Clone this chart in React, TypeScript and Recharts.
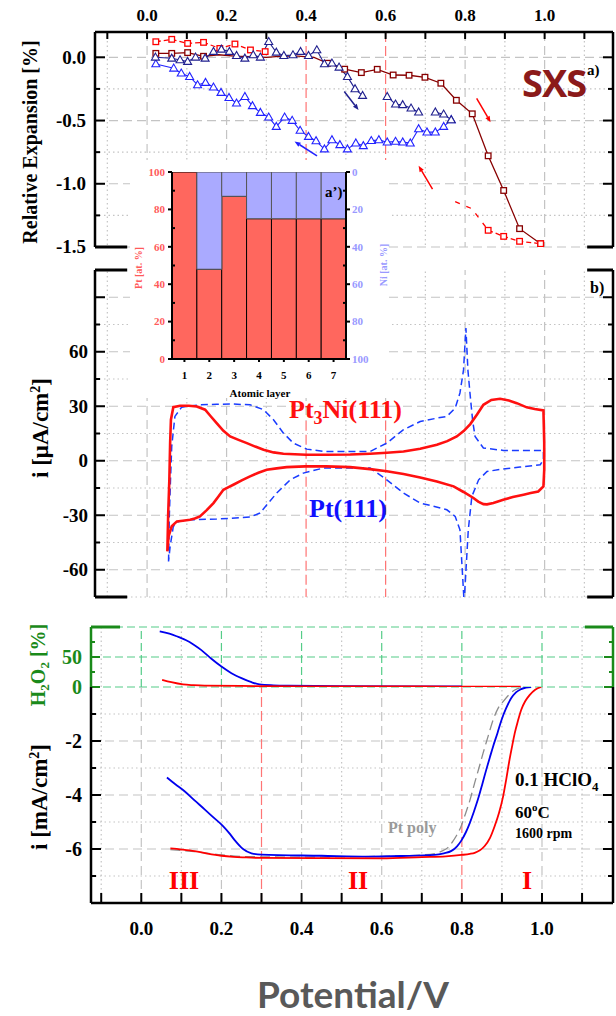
import React from 'react';
import { LineChart, Line, XAxis, YAxis, ReferenceLine, BarChart, Bar } from 'recharts';

const SERIF = '"Liberation Serif", "Times New Roman", serif';

// shared potential axis (V)
const potTicks = [-0.1, 0, 0.1, 0.2, 0.3, 0.4, 0.5, 0.6, 0.7, 0.8, 0.9, 1.0, 1.1];
const potLabels = [0, 0.2, 0.4, 0.6, 0.8, 1.0];
const potMinor = [-0.1, 0.1, 0.3, 0.5, 0.7, 0.9, 1.1];

// ---- a) SXS relative expansion [%]
const sxsTicks = [0, -0.25, -0.5, -0.75, -1, -1.25, -1.5];
const sxsMajor = [0, -0.5, -1, -1.5];
const sxsMinor = [-0.25, -0.75, -1.25];

type P = [number, number | null];

const pt3niFwdA: P[] = [[0.022, 0.031], [0.062, 0.031], [0.102, 0.037], [0.142, 0.008]];
const pt3niFwdHidden: P[] = [
  [0.142, 0.008], [0.18, 0.02], [0.22, 0.01], [0.26, 0.005], [0.3, 0.0], [0.34, 0.01],
  [0.38, 0.01], [0.42, 0.0], [0.454, -0.047],
];
const pt3niFwdB: P[] = [
  [0.454, -0.047], [0.497, -0.094], [0.539, -0.121], [0.579, -0.095], [0.619, -0.14],
  [0.659, -0.142], [0.699, -0.158], [0.739, -0.205], [0.778, -0.34], [0.818, -0.447],
  [0.858, -0.779], [0.897, -1.053], [0.937, -1.355], [0.99, -1.474],
];
const pt3niRevLow: P[] = [
  [0.022, 0.123], [0.062, 0.142], [0.102, 0.11], [0.142, 0.118], [0.183, 0.07],
  [0.221, 0.105], [0.26, 0.058], [0.297, 0.045],
];
const pt3niRevHighLink: P[] = [[0.775, -1.142], [0.817, -1.197], [0.858, -1.368]];
const pt3niRevHigh: P[] = [[0.858, -1.368], [0.897, -1.416], [0.937, -1.455], [0.99, -1.474]];

const pt111Fwd: P[] = [
  [0.021, 0.0], [0.062, -0.008], [0.083, -0.021], [0.102, -0.034], [0.122, 0.0], [0.146, -0.008],
  [0.167, 0.045], [0.187, 0.063], [0.207, 0.045], [0.225, 0.013], [0.246, -0.008], [0.267, 0.018],
  [0.285, 0.0], [0.306, 0.123], [0.325, 0.039], [0.344, 0.013], [0.367, 0.018], [0.386, 0.045],
  [0.406, 0.013], [0.427, 0.058], [0.446, -0.053], [0.465, -0.047], [0.483, -0.079], [0.504, -0.153],
  [0.523, -0.25], [0.542, -0.303], [0.56, null], [0.604, -0.311], [0.625, -0.371], [0.643, -0.376],
  [0.664, -0.403], [0.683, -0.434], [0.7, null], [0.725, -0.434], [0.746, -0.45], [0.765, -0.495],
];
const pt111Rev: P[] = [
  [0.765, -0.495], [0.746, -0.548], [0.725, -0.592], [0.704, -0.592], [0.683, -0.566],
  [0.662, -0.679], [0.643, -0.671], [0.625, -0.666], [0.604, -0.671], [0.583, -0.653],
  [0.564, -0.66], [0.544, -0.7], [0.525, -0.679], [0.504, -0.726], [0.485, -0.692],
  [0.465, -0.653], [0.446, -0.726], [0.425, -0.661], [0.406, -0.627], [0.385, -0.579],
  [0.365, -0.5], [0.346, -0.474], [0.325, -0.548], [0.306, -0.474], [0.285, -0.437],
  [0.265, -0.384], [0.246, -0.311], [0.225, -0.363], [0.206, -0.319], [0.186, -0.279],
  [0.167, -0.237], [0.147, -0.2], [0.127, -0.219], [0.107, -0.153], [0.086, -0.126],
  [0.067, -0.087], [0.022, -0.053],
];

// scan direction arrows [from, to]
const arrowsRed = [
  [[0.829, -0.324], [0.864, -0.513]],
  [[0.718, -1.042], [0.683, -0.858]],
];
const arrowsBlue = [
  [[0.496, -0.271], [0.532, -0.416]],
  [[0.4275, -0.779], [0.371, -0.666]],
];

// ---- a') inset: composition per atomic layer
const layers = [1, 2, 3, 4, 5, 6, 7];
const ptAt = [100, 48, 87, 75, 75, 75, 75];
const niAt = [0, 52, 13, 25, 25, 25, 25];
const pctTicks = [0, 10, 20, 30, 40, 50, 60, 70, 80, 90, 100];
const pctMajor = [0, 20, 40, 60, 80, 100];

// ---- b) CV, i [uA/cm2]
const cvTicks = [90, 75, 60, 45, 30, 15, 0, -15, -30, -45, -60];
const cvMajor = [90, 60, 30, 0, -30, -60];
const cvMinor = [75, 45, 15, -15, -45, -75];
const cvLabels = [60, 30, 0, -30, -60];

const cvPt3ni: P[] = [
  [0.051, -49.9], [0.053, -30], [0.056, -10.5], [0.058, 10], [0.06, 22.6], [0.066, 29.5],
  [0.083, 30.3], [0.105, 30.3], [0.125, 29.9], [0.146, 28.1], [0.16, 24.5], [0.175, 20.7],
  [0.192, 16.5], [0.209, 13.4], [0.23, 11.5], [0.251, 9.7], [0.272, 7.8], [0.293, 6.05],
  [0.318, 4.6], [0.343, 3.85], [0.4, 3.3], [0.45, 3.3], [0.511, 3.4], [0.561, 3.85],
  [0.603, 4.4], [0.645, 5.1], [0.687, 6.6], [0.729, 8.8], [0.755, 10.8], [0.779, 13.4],
  [0.797, 16.5], [0.813, 20.2], [0.83, 25.5], [0.846, 30.8], [0.866, 33.5], [0.888, 34.1],
  [0.91, 33.2], [0.93, 31.7], [0.955, 29.4], [0.975, 28.5], [0.997, 27.7], [0.999, 10],
  [0.999, -5], [0.997, -14.1], [0.984, -16.9], [0.965, -17.8], [0.947, -18.7], [0.92, -20],
  [0.896, -21.5], [0.871, -23.3], [0.855, -24], [0.846, -23.9], [0.833, -22.5], [0.821, -20.5],
  [0.796, -17.2], [0.771, -14.1], [0.729, -11.4], [0.687, -9.2], [0.645, -7.3], [0.603, -5.8],
  [0.561, -4.6], [0.511, -3.5], [0.45, -3.1], [0.398, -3.1], [0.351, -3.5], [0.326, -4.2],
  [0.301, -5], [0.28, -6.6], [0.259, -8.6], [0.238, -10.8], [0.217, -13.2], [0.205, -14.5],
  [0.192, -16], [0.18, -19.5], [0.167, -23.3], [0.15, -27.2], [0.133, -30.6], [0.12, -31.8],
  [0.108, -32.5], [0.09, -33], [0.075, -33.4], [0.062, -36.1], [0.054, -41.6], [0.051, -49.9],
];
const cvPt111: P[] = [
  [0.054, -55.4], [0.056, -30], [0.059, -10], [0.062, 7.9], [0.07, 24.4], [0.087, 29.5],
  [0.133, 30.8], [0.175, 31.1], [0.217, 31.2], [0.259, 30.8], [0.293, 28.1], [0.318, 22.6],
  [0.343, 15.2], [0.368, 9.7], [0.402, 6.4], [0.444, 5.1], [0.511, 5.1], [0.561, 5.1],
  [0.603, 9.7], [0.645, 17.1], [0.687, 21.6], [0.73, 23.5], [0.754, 24.4], [0.775, 29],
  [0.787, 37.3], [0.796, 50], [0.802, 73], [0.807, 50], [0.813, 35.4], [0.819, 22],
  [0.825, 13.4], [0.846, 7], [0.896, 5.7], [0.997, 5.7], [0.997, 0.5], [0.989, -2.2],
  [0.938, -3.5], [0.896, -4.5], [0.855, -5.9], [0.834, -10.5], [0.817, -19.6], [0.808, -38],
  [0.7975, -78], [0.787, -38], [0.775, -30.6], [0.754, -27], [0.72, -25], [0.687, -23.3],
  [0.645, -17.8], [0.603, -10.5], [0.561, -4], [0.511, -4], [0.444, -4], [0.393, -6.8],
  [0.36, -10.5], [0.326, -17.8], [0.284, -28.8], [0.259, -31], [0.175, -32.1], [0.108, -32.5],
  [0.079, -33.4], [0.066, -36.1], [0.058, -47.2], [0.054, -55.4],
];

// ---- c) RRDE: H2O2 [%] and disk current [mA/cm2]
const h2o2Ticks = [0, 25, 50, 75];
const diskTicks = [-7, -6, -5, -4, -3, -2, -1];
const diskMajor = [-6, -4, -2];
const diskMinor = [-7, -5, -3, -1];

const h2o2Pt111: P[] = [
  [0.046, 92.9], [0.07, 89], [0.092, 83.5], [0.112, 78], [0.13, 71], [0.15, 61.5],
  [0.175, 47], [0.2, 34], [0.225, 23], [0.25, 14.8], [0.275, 8], [0.295, 4.3],
  [0.33, 2.8], [0.366, 2.2], [0.5, 1.5], [0.7, 1], [0.8, 0.8],
];
const h2o2Pt3ni: P[] = [
  [0.052, 12], [0.075, 8], [0.104, 4.3], [0.13, 3], [0.158, 2.2], [0.283, 1.6],
  [0.5, 1.0], [0.7, 0.8], [0.85, 0.6], [0.947, 0.5],
];
const diskPt111: P[] = [
  [0.064, -3.35], [0.085, -3.6], [0.108, -3.86], [0.133, -4.2], [0.158, -4.53], [0.18, -4.83],
  [0.204, -5.15], [0.22, -5.42], [0.233, -5.67], [0.254, -6.0], [0.275, -6.16], [0.3, -6.21],
  [0.45, -6.25], [0.566, -6.28], [0.65, -6.26], [0.732, -6.22], [0.755, -6.16], [0.774, -6.07],
  [0.788, -5.9], [0.799, -5.68], [0.81, -5.38], [0.82, -5.03], [0.83, -4.62], [0.84, -4.17],
  [0.851, -3.6], [0.861, -3.06], [0.87, -2.6], [0.878, -2.2], [0.889, -1.7], [0.899, -1.22],
  [0.91, -0.8], [0.923, -0.42], [0.935, -0.2], [0.948, -0.08], [0.96, -0.02], [0.973, 0],
];
const diskPt3ni: P[] = [
  [0.0725, -5.98], [0.1, -6.02], [0.133, -6.08], [0.165, -6.17], [0.2, -6.25], [0.23, -6.29],
  [0.258, -6.31], [0.3, -6.33], [0.45, -6.34], [0.6, -6.35], [0.7, -6.3], [0.76, -6.27],
  [0.799, -6.22], [0.82, -6.18], [0.832, -6.14], [0.845, -6.05], [0.857, -5.89], [0.87, -5.6],
  [0.882, -5.15], [0.893, -4.65], [0.903, -4.05], [0.911, -3.4], [0.919, -2.69], [0.926, -2.15],
  [0.932, -1.71], [0.94, -1.25], [0.948, -0.85], [0.958, -0.53], [0.969, -0.3], [0.983, -0.1],
  [0.998, 0],
];
const diskPtPoly: P[] = [
  [0.0725, -6.02], [0.133, -6.1], [0.2, -6.22], [0.26, -6.28], [0.4, -6.3], [0.6, -6.27],
  [0.7, -6.22], [0.732, -6.17], [0.75, -6.08], [0.765, -5.95], [0.776, -5.75], [0.786, -5.52],
  [0.797, -5.2], [0.807, -4.78], [0.82, -4.2], [0.832, -3.55], [0.843, -2.98], [0.853, -2.45],
  [0.866, -1.8], [0.878, -1.22], [0.89, -0.8], [0.903, -0.54], [0.918, -0.28], [0.932, -0.11],
  [0.945, -0.03], [0.957, 0],
];

const xy = (a: P[]) => a.map(([x, y]) => ({ x, y }));

// ---------- helpers
const near = (arr: any[] | undefined, v: any) =>
  !!arr && arr.some((m) => (typeof m === 'number' ? Math.abs(m - v) < 1e-6 : m === v));
const without = (arr: number[], drop: number[]) => arr.filter((v) => !near(drop, v));

type TickCfg = {
  side: 'top' | 'bottom' | 'left' | 'right';
  majors?: number[];
  labels?: number[];
  majorLen: number;
  minorLen?: number;
  gap?: number;
  fontSize?: number;
  color?: string;
  tickColor?: string;
  fmt?: (v: any) => string;
};

function makeTick(c: TickCfg) {
  return (p: any) => {
    const { x, y, payload } = p;
    const v = payload.value;
    const len = !c.majors || near(c.majors, v) ? c.majorLen : c.minorLen ?? c.majorLen;
    const show = near(c.labels, v);
    const txt = c.fmt ? c.fmt(v) : String(v);
    const fs = c.fontSize ?? 18;
    const gap = c.gap ?? 0;
    const stroke = c.tickColor ?? '#000';
    const tp = { fontFamily: SERIF, fontWeight: 700, fontSize: fs, fill: c.color ?? '#000' };
    let line;
    let label = null;
    if (c.side === 'top') {
      line = <line x1={x} y1={y} x2={x} y2={y + len} stroke={stroke} strokeWidth={2} />;
      if (show) label = <text x={x} y={y - gap} textAnchor="middle" {...tp}>{txt}</text>;
    } else if (c.side === 'bottom') {
      line = <line x1={x} y1={y} x2={x} y2={y - len} stroke={stroke} strokeWidth={2} />;
      if (show) label = <text x={x} y={y + gap} textAnchor="middle" {...tp}>{txt}</text>;
    } else if (c.side === 'left') {
      line = <line x1={x} y1={y} x2={x + len} y2={y} stroke={stroke} strokeWidth={2} />;
      if (show) label = <text x={x - gap} y={y + fs * 0.34} textAnchor="end" {...tp}>{txt}</text>;
    } else {
      line = <line x1={x} y1={y} x2={x - len} y2={y} stroke={stroke} strokeWidth={2} />;
      if (show) label = <text x={x + gap} y={y + fs * 0.34} textAnchor="start" {...tp}>{txt}</text>;
    }
    return (
      <g>
        {line}
        {label}
      </g>
    );
  };
}

const sqDot = (color: string) => (p: any) => {
  if (p.cx == null || p.cy == null || p.value == null) return <g key={`s${p.index}`} />;
  return (
    <rect key={`s${p.index}`} x={p.cx - 2.8} y={p.cy - 2.8} width={5.6} height={5.6}
      fill="#fff" stroke={color} strokeWidth={1.3} />
  );
};

const triDot = (color: string) => (p: any) => {
  if (p.cx == null || p.cy == null || p.value == null) return <g key={`t${p.index}`} />;
  const { cx, cy } = p;
  return (
    <polygon key={`t${p.index}`} points={`${cx},${cy - 4.2} ${cx - 4},${cy + 2.8} ${cx + 4},${cy + 2.8}`}
      fill="#fff" stroke={color} strokeWidth={1.1} />
  );
};

const arrowShape = (color: string) => (p: any) => {
  const { x1, y1, x2, y2 } = p;
  const a = Math.atan2(y2 - y1, x2 - x1);
  const L = 6;
  const W = 2.4;
  const bx = x2 - L * Math.cos(a);
  const by = y2 - L * Math.sin(a);
  const pts = `${x2},${y2} ${bx - W * Math.sin(a)},${by + W * Math.cos(a)} ${bx + W * Math.sin(a)},${by - W * Math.cos(a)}`;
  return (
    <g>
      <line x1={x1} y1={y1} x2={bx} y2={by} stroke={color} strokeWidth={1.5} />
      <polygon points={pts} fill={color} />
    </g>
  );
};

const GRID = '#c4c4c4';
const REDV = '#ff7575';
const DASH = '9 5';
const DOT = '1.5 3';
const vLines = (vals: number[], stroke: string, dash: string, k: string) =>
  vals.map((v) => (
    <ReferenceLine key={`${k}${v}`} x={v} stroke={stroke} strokeDasharray={dash} strokeWidth={1.2} />
  ));
const hLines = (vals: number[], stroke: string, dash: string, k: string) =>
  vals.map((v) => (
    <ReferenceLine key={`${k}${v}`} y={v} stroke={stroke} strokeDasharray={dash} strokeWidth={1.2} />
  ));
const corners = (yv: number, x0: number, x1: number, x2: number, x3: number, color: string, k: string) => [
  <ReferenceLine key={`${k}a`} segment={[{ x: x0, y: yv }, { x: x1, y: yv }]} stroke={color} strokeWidth={3} />,
  <ReferenceLine key={`${k}b`} segment={[{ x: x2, y: yv }, { x: x3, y: yv }]} stroke={color} strokeWidth={3} />,
];

const AX = { stroke: '#000', strokeWidth: 2.5 };
const noTickLine = { tickLine: false, tickSize: 0, tickMargin: 0, interval: 0 as const };
const XD: [number, number] = [-0.131, 1.172];
const XD_B: [number, number] = [-0.1255, 1.1772];
const f1 = (v: number) => v.toFixed(1);

// ---------- panels
function SxsPanel() {
  return (
    <LineChart width={616} height={262} margin={{ top: 0, right: 0, bottom: 15, left: 0 }}>
      <XAxis type="number" dataKey="x" orientation="top" height={32} domain={XD} allowDataOverflow
        ticks={potTicks} axisLine={AX} {...noTickLine}
        tick={makeTick({ side: 'top', labels: potLabels, majorLen: 7, gap: 11, fontSize: 17, fmt: f1 })} />
      <YAxis type="number" domain={[-1.5, 0.2]} allowDataOverflow width={95} ticks={sxsTicks} axisLine={AX}
        {...noTickLine}
        tick={makeTick({ side: 'left', majors: sxsMajor, labels: sxsMajor, majorLen: 10, minorLen: 5, gap: 9, fontSize: 19, fmt: f1 })} />
      <YAxis yAxisId="r" orientation="right" type="number" domain={[-1.5, 0.2]} allowDataOverflow width={3}
        ticks={sxsTicks} axisLine={AX} {...noTickLine}
        tick={makeTick({ side: 'right', majors: sxsMajor, majorLen: 10, minorLen: 5 })} />
      {vLines(without(potLabels, [0.4, 0.6]), GRID, DASH, 'vd')}
      {vLines(potMinor, GRID, DOT, 'vm')}
      {hLines(sxsMajor, GRID, DASH, 'hd')}
      {hLines(sxsMinor, GRID, DOT, 'hm')}
      {vLines([0.4, 0.6], REDV, '10 4', 'red')}
      {corners(-1.5, -0.131, -0.05, 1.107, 1.172, '#000', 'cb')}
      <Line data={xy(pt3niFwdHidden)} dataKey="y" type="linear" stroke="#880000" strokeWidth={1.3} dot={false} isAnimationActive={false} />
      <Line data={xy(pt3niFwdA)} dataKey="y" type="linear" stroke="#880000" strokeWidth={1.3} dot={sqDot('#880000')} isAnimationActive={false} />
      <Line data={xy(pt3niFwdB)} dataKey="y" type="linear" stroke="#880000" strokeWidth={1.3} dot={sqDot('#880000')} isAnimationActive={false} />
      <Line data={xy(pt3niRevLow)} dataKey="y" type="linear" stroke="#ff0000" strokeWidth={1.3} strokeDasharray="5 3" dot={sqDot('#ff0000')} isAnimationActive={false} />
      <Line data={xy(pt3niRevHighLink)} dataKey="y" type="linear" stroke="#ff0000" strokeWidth={1.3} strokeDasharray="5 7" dot={false} isAnimationActive={false} />
      <Line data={xy(pt3niRevHigh)} dataKey="y" type="linear" stroke="#ff0000" strokeWidth={1.3} strokeDasharray="5 3" dot={sqDot('#ff0000')} isAnimationActive={false} />
      <Line data={xy(pt111Rev)} dataKey="y" type="linear" stroke="#2222ff" strokeWidth={1.1} dot={triDot('#2222ff')} isAnimationActive={false} />
      <Line data={xy(pt111Fwd)} dataKey="y" type="linear" stroke="#20208f" strokeWidth={1.1} dot={triDot('#20208f')} isAnimationActive={false} />
      {arrowsRed.map((s, i) => (
        <ReferenceLine key={`ar${i}`} segment={s.map(([x, y]) => ({ x, y }))} stroke="#ff0000" shape={arrowShape('#ff0000')} />
      ))}
      {arrowsBlue.map((s, i) => (
        <ReferenceLine key={`ab${i}`} segment={s.map(([x, y]) => ({ x, y }))} stroke={i === 0 ? '#20208f' : '#2222ff'}
          shape={arrowShape(i === 0 ? '#20208f' : '#2222ff')} />
      ))}
    </LineChart>
  );
}

function Inset() {
  const data = layers.map((l, i) => ({ layer: l, pt: ptAt[i], ni: niAt[i] }));
  return (
    <BarChart width={259} height={238} data={data} margin={{ top: 12, right: 0, bottom: 0, left: 0 }}
      barCategoryGap={0} barGap={0}>
      <XAxis dataKey="layer" height={39} axisLine={{ stroke: '#000', strokeWidth: 2 }} {...noTickLine}
        tick={makeTick({ side: 'bottom', labels: layers, majorLen: -3, gap: 20, fontSize: 11 })} />
      <YAxis yAxisId="pt" domain={[0, 100]} allowDataOverflow width={42} ticks={pctTicks}
        axisLine={{ stroke: '#000', strokeWidth: 2 }} {...noTickLine}
        tick={makeTick({ side: 'left', majors: pctMajor, labels: pctMajor, majorLen: -4, minorLen: 3, gap: 7, fontSize: 11, color: '#ff5a5a' })} />
      <YAxis yAxisId="ni" orientation="right" reversed domain={[0, 100]} allowDataOverflow width={43}
        ticks={pctTicks} axisLine={{ stroke: '#000', strokeWidth: 2 }} {...noTickLine}
        tick={makeTick({ side: 'right', majors: pctMajor, labels: pctMajor, majorLen: -4, minorLen: 3, gap: 6, fontSize: 11, color: '#9999ff' })} />
      <Bar yAxisId="pt" dataKey="pt" stackId="s" fill="#ff675e" stroke="#000" strokeWidth={1} isAnimationActive={false} />
      <Bar yAxisId="pt" dataKey="ni" stackId="s" fill="#aaaaff" stroke="#555" strokeWidth={1} isAnimationActive={false} />
    </BarChart>
  );
}

function CvPanel() {
  return (
    <LineChart width={616} height={340} margin={{ top: 8, right: 0, bottom: 5, left: 0 }}>
      <XAxis type="number" dataKey="x" hide domain={XD} allowDataOverflow />
      <YAxis type="number" domain={[-75, 105]} allowDataOverflow width={95} ticks={cvTicks} axisLine={AX}
        {...noTickLine}
        tick={makeTick({ side: 'left', majors: cvMajor, labels: cvLabels, majorLen: 10, minorLen: 5, gap: 7, fontSize: 19 })} />
      <YAxis yAxisId="r" orientation="right" type="number" domain={[-75, 105]} allowDataOverflow width={3}
        ticks={cvTicks} axisLine={AX} {...noTickLine}
        tick={makeTick({ side: 'right', majors: cvMajor, majorLen: 10, minorLen: 5 })} />
      {vLines(potLabels, GRID, DASH, 'vd')}
      {vLines(potMinor, GRID, DOT, 'vm')}
      {hLines(cvMajor, GRID, DASH, 'hd')}
      {hLines(cvMinor, GRID, DOT, 'hm')}
      {[0.4, 0.6].map((v) => (
        <ReferenceLine key={`rw${v}`} segment={[{ x: v, y: 22 }, { x: v, y: -75 }]} stroke="#fff" strokeWidth={2} />
      ))}
      {[0.4, 0.6].map((v) => (
        <ReferenceLine key={`rs${v}`} segment={[{ x: v, y: 22 }, { x: v, y: -75 }]} stroke={REDV} strokeWidth={1.2} strokeDasharray="10 4" />
      ))}
      {corners(105, -0.131, -0.05, 1.107, 1.172, '#000', 'ct')}
      {corners(-75, -0.131, -0.05, 1.107, 1.172, '#000', 'cb')}
      <Line data={xy(cvPt111)} dataKey="y" type="linear" stroke="#1a3cff" strokeWidth={1.5} strokeDasharray="7 4" dot={false} isAnimationActive={false} />
      <Line data={xy(cvPt3ni)} dataKey="y" type="linear" stroke="#ff1010" strokeWidth={2.6} dot={false} isAnimationActive={false} />
    </LineChart>
  );
}

const GREEN = '#1a8a1a';
const LGREEN = '#55cc88';

function H2o2Panel() {
  const gax = { stroke: GREEN, strokeWidth: 2.5 };
  return (
    <LineChart width={616} height={100} margin={{ top: 27, right: 0, bottom: 13, left: 0 }}>
      <XAxis type="number" dataKey="x" hide domain={XD_B} allowDataOverflow />
      <YAxis type="number" domain={[0, 100]} allowDataOverflow width={91} ticks={h2o2Ticks} axisLine={gax}
        {...noTickLine}
        tick={makeTick({ side: 'left', majors: [0, 50], labels: [0, 50], majorLen: 9, minorLen: 4, gap: 9, fontSize: 20, color: GREEN, tickColor: GREEN })} />
      <YAxis yAxisId="r" orientation="right" type="number" domain={[0, 100]} allowDataOverflow width={3}
        ticks={h2o2Ticks} axisLine={gax} {...noTickLine}
        tick={makeTick({ side: 'right', majors: [0, 50], majorLen: 9, minorLen: 4, tickColor: GREEN })} />
      {vLines(potLabels, LGREEN, '8 4', 'vd')}
      {vLines(potMinor, GRID, DOT, 'vm')}
      {hLines([100, 50, 0], LGREEN, '8 4', 'hd')}
      {corners(100, -0.1255, -0.053, 1.107, 1.1772, GREEN, 'gt')}
      <Line data={xy(h2o2Pt111)} dataKey="y" type="monotone" stroke="#0000ee" strokeWidth={1.8} dot={false} isAnimationActive={false} />
      <Line data={xy(h2o2Pt3ni)} dataKey="y" type="monotone" stroke="#ff0000" strokeWidth={1.8} dot={false} isAnimationActive={false} />
    </LineChart>
  );
}

function DiskPanel() {
  return (
    <LineChart width={616} height={260} margin={{ top: 7, right: 0, bottom: 0, left: 0 }}>
      <XAxis type="number" dataKey="x" domain={XD_B} allowDataOverflow height={37} ticks={potTicks}
        axisLine={AX} {...noTickLine}
        tick={makeTick({ side: 'bottom', labels: potLabels, majorLen: 10, gap: 32, fontSize: 19, fmt: f1 })} />
      <YAxis type="number" domain={[-8, 0]} allowDataOverflow width={91} ticks={diskTicks} axisLine={AX}
        {...noTickLine}
        tick={makeTick({ side: 'left', majors: diskMajor, labels: diskMajor, majorLen: 10, minorLen: 5, gap: 9, fontSize: 20 })} />
      <YAxis yAxisId="r" orientation="right" type="number" domain={[-8, 0]} allowDataOverflow width={3}
        ticks={diskTicks} axisLine={AX} {...noTickLine}
        tick={makeTick({ side: 'right', majors: diskMajor, majorLen: 10, minorLen: 5 })} />
      {vLines(without(potLabels, [0.8]), GRID, DASH, 'vd')}
      {vLines(without(potMinor, [0.3]), GRID, DOT, 'vm')}
      {hLines(diskMajor, GRID, DASH, 'hd')}
      {hLines(diskMinor, GRID, DOT, 'hm')}
      {vLines([0.3, 0.8], REDV, '10 4', 'red')}
      <Line data={xy(diskPtPoly)} dataKey="y" type="monotone" stroke="#8c8c8c" strokeWidth={1.3} strokeDasharray="10 5" dot={false} isAnimationActive={false} />
      <Line data={xy(diskPt111)} dataKey="y" type="monotone" stroke="#0000ee" strokeWidth={1.8} dot={false} isAnimationActive={false} />
      <Line data={xy(diskPt3ni)} dataKey="y" type="monotone" stroke="#ff0000" strokeWidth={1.8} dot={false} isAnimationActive={false} />
    </LineChart>
  );
}

function Labels() {
  const b = { fontFamily: SERIF, fontWeight: 700 } as const;
  return (
    <svg width={616} height={1016} style={{ position: 'absolute', left: 0, top: 0, pointerEvents: 'none' }}>
      <text x={37} y={142} transform="rotate(-90 37 142)" textAnchor="middle" fontSize={20} {...b}>
        Relative Expansion [%]
      </text>
      <text x={522} y={97} fontFamily="'Open Sans', sans-serif" fontWeight={700} fontSize={38} fill="#8b1a1a"
        letterSpacing={-1}>SXS</text>
      <text x={587} y={75} fontSize={15} {...b}>a)</text>
      <text x={325} y={197} fontSize={15} {...b}>a’)</text>
      <text x={142} y={268} transform="rotate(-90 142 268)" textAnchor="middle" fontSize={10} fill="#ff5a5a" {...b}>
        Pt [at. %]
      </text>
      <text x={387} y={265} transform="rotate(-90 387 265)" textAnchor="middle" fontSize={10} fill="#9999ff" {...b}>
        Ni [at. %]
      </text>
      <text x={260} y={397} textAnchor="middle" fontSize={11} {...b}>Atomic layer</text>
      <text x={590} y={293} fontSize={16} {...b}>b)</text>
      <text x={48} y={428} transform="rotate(-90 48 428)" textAnchor="middle" fontSize={23} {...b}>
        i [μA/cm<tspan dy={-8} fontSize={14}>2</tspan><tspan dy={8}>]</tspan>
      </text>
      <text x={289} y={418} fontSize={26} fill="#ff1010" {...b}>
        Pt<tspan dy={6} fontSize={18}>3</tspan><tspan dy={-6}>Ni(111)</tspan>
      </text>
      <text x={309} y={517} fontSize={26} fill="#1010ff" {...b}>Pt(111)</text>
      <text x={45} y={665} transform="rotate(-90 45 665)" textAnchor="middle" fontSize={20} fill={GREEN} {...b}>
        H<tspan dy={4} fontSize={13}>2</tspan><tspan dy={-4}>O</tspan><tspan dy={4} fontSize={13}>2</tspan>
        <tspan dy={-4}> [%]</tspan>
      </text>
      <text x={47} y={797} transform="rotate(-90 47 797)" textAnchor="middle" fontSize={23} {...b}>
        i [mA/cm<tspan dy={-8} fontSize={14}>2</tspan><tspan dy={8}>]</tspan>
      </text>
      <text x={515} y={786} fontSize={19} {...b}>
        0.1 HClO<tspan dy={5} fontSize={13}>4</tspan>
      </text>
      <text x={515} y={818} fontSize={17} {...b}>
        60<tspan dy={-7} fontSize={11}>o</tspan><tspan dy={7}>C</tspan>
      </text>
      <text x={515} y={838} fontSize={14} {...b}>1600 rpm</text>
      <text x={388} y={833} fontSize={16} fill="#9a9a9a" {...b}>Pt poly</text>
      <text x={184} y={889} textAnchor="middle" fontSize={26} fill="#ff0000" {...b}>III</text>
      <text x={358} y={889} textAnchor="middle" fontSize={26} fill="#ff0000" {...b}>II</text>
      <text x={527} y={889} textAnchor="middle" fontSize={26} fill="#ff0000" {...b}>I</text>
      <text x={353} y={1008} textAnchor="middle" fontFamily="Lato, 'Open Sans', sans-serif" fontWeight={700}
        fontSize={37} fill="#595959">
        Potential/V
      </text>
    </svg>
  );
}

export default function App() {
  return (
    <div style={{ position: 'absolute', left: 0, top: 0, width: 616, height: 1016, background: '#fff', overflow: 'hidden' }}>
      <div style={{ position: 'absolute', left: 0, top: 0 }}><SxsPanel /></div>
      <div style={{ position: 'absolute', left: 0, top: 262 }}><CvPanel /></div>
      <div style={{ position: 'absolute', left: 0, top: 600 }}><H2o2Panel /></div>
      <div style={{ position: 'absolute', left: 0, top: 680 }}><DiskPanel /></div>
      <div style={{ position: 'absolute', left: 130, top: 160, width: 259, height: 238, background: '#fff' }}>
        <Inset />
      </div>
      <Labels />
    </div>
  );
}
